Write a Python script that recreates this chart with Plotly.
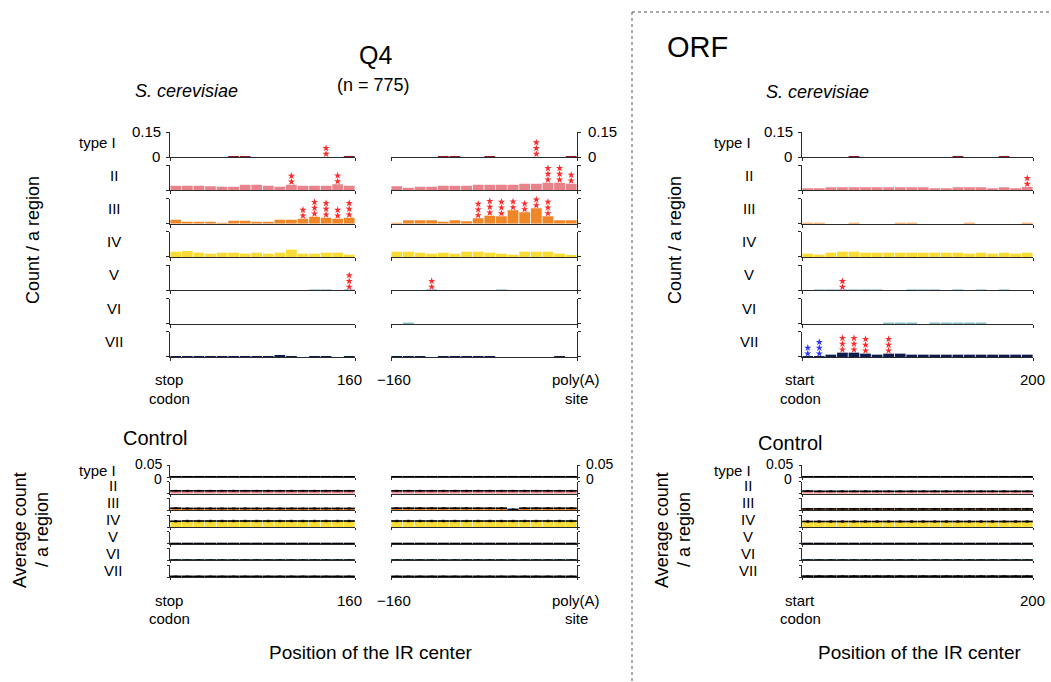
import plotly.graph_objects as go

W, H = 1051, 682
FONT = "Liberation Sans, Arial, Helvetica, sans-serif"

TYPES = ["type I", "II", "III", "IV", "V", "VI", "VII"]
COLORS = ["#8E1B1B", "#E9838B", "#EF8628", "#F9DC37", "#9DC3E6", "#2A8C96", "#0E1B4D"]

# ---------------- bin centres ----------------
stop_x = [5, 15, 25, 35, 45, 55, 65, 75, 85, 95, 105, 115, 125, 135, 145, 155]
polyA_x = [-155, -145, -135, -125, -115, -105, -95, -85, -75, -65, -55, -45, -35, -25, -15, -5]
orf_x = [5, 15, 25, 35, 45, 55, 65, 75, 85, 95, 105, 115, 125, 135, 145, 155, 165, 175, 185, 195]

# ---------------- Q4 : stop codon side (count / region) ----------------
stop_I = [0, 0, 0, 0, 0, 0.001, 0.001, 0, 0, 0, 0, 0, 0, 0, 0, 0.001]
stop_II = [0.028, 0.028, 0.028, 0.024, 0.022, 0.022, 0.034, 0.034, 0.028, 0.022, 0.034, 0.028, 0.028, 0.028, 0.036, 0.028]
stop_III = [0.024, 0.012, 0.012, 0.012, 0.006, 0.018, 0.018, 0.012, 0.012, 0.024, 0.024, 0.030, 0.042, 0.036, 0.030, 0.036]
stop_IV = [0.032, 0.036, 0.026, 0.020, 0.026, 0.026, 0.020, 0.026, 0.020, 0.026, 0.044, 0.020, 0.020, 0.026, 0.026, 0.014]
stop_V = [0, 0, 0, 0, 0, 0, 0, 0, 0, 0, 0, 0, 0.003, 0.003, 0, 0.003]
stop_VI = [0, 0, 0, 0, 0, 0, 0, 0, 0, 0, 0, 0, 0, 0, 0, 0]
stop_VII = [0.002, 0.004, 0.004, 0.004, 0.004, 0.004, 0.004, 0.004, 0.004, 0.008, 0.004, 0, 0.004, 0.004, 0, 0.004]
# number of significance stars per bin
stop_I_st = [0, 0, 0, 0, 0, 0, 0, 0, 0, 0, 0, 0, 0, 2, 0, 0]
stop_II_st = [0, 0, 0, 0, 0, 0, 0, 0, 0, 0, 2, 0, 0, 0, 2, 0]
stop_III_st = [0, 0, 0, 0, 0, 0, 0, 0, 0, 0, 0, 2, 3, 3, 2, 3]
stop_V_st = [0, 0, 0, 0, 0, 0, 0, 0, 0, 0, 0, 0, 0, 0, 0, 3]

# ---------------- Q4 : poly(A) side ----------------
polyA_I = [0, 0, 0, 0, 0.001, 0.001, 0, 0, 0.001, 0, 0, 0, 0, 0, 0, 0.001]
polyA_II = [0.024, 0.016, 0.022, 0.022, 0.028, 0.028, 0.028, 0.034, 0.034, 0.034, 0.034, 0.040, 0.040, 0.046, 0.046, 0.040]
polyA_III = [0.006, 0.020, 0.020, 0.020, 0.008, 0.020, 0.014, 0.032, 0.048, 0.044, 0.080, 0.068, 0.092, 0.044, 0.020, 0.020]
polyA_IV = [0.032, 0.032, 0.026, 0.020, 0.026, 0.020, 0.032, 0.032, 0.026, 0.020, 0.014, 0.032, 0.032, 0.032, 0.020, 0.008]
polyA_V = [0, 0, 0, 0.003, 0, 0, 0, 0, 0, 0.003, 0, 0, 0, 0, 0, 0]
polyA_VI = [0, 0.0015, 0, 0, 0, 0, 0, 0, 0, 0, 0, 0, 0, 0, 0, 0]
polyA_VII = [0.004, 0.004, 0.004, 0, 0.004, 0.004, 0.004, 0.004, 0.004, 0, 0, 0, 0, 0, 0.004, 0]
polyA_I_st = [0, 0, 0, 0, 0, 0, 0, 0, 0, 0, 0, 0, 3, 0, 0, 0]
polyA_II_st = [0, 0, 0, 0, 0, 0, 0, 0, 0, 0, 0, 0, 0, 3, 3, 2]
polyA_III_st = [0, 0, 0, 0, 0, 0, 0, 3, 3, 3, 3, 3, 3, 3, 0, 0]
polyA_V_st = [0, 0, 0, 2, 0, 0, 0, 0, 0, 0, 0, 0, 0, 0, 0, 0]

# ---------------- ORF ----------------
orf_I = [0, 0, 0, 0, 0.001, 0, 0, 0, 0, 0, 0, 0, 0, 0.001, 0, 0, 0, 0.001, 0, 0]
orf_II = [0.010, 0.010, 0.018, 0.018, 0.018, 0.018, 0.018, 0.018, 0.018, 0.018, 0.018, 0.012, 0.010, 0.018, 0.018, 0.018, 0.012, 0.018, 0.012, 0.020]
orf_III = [0.003, 0.003, 0, 0, 0.003, 0, 0, 0, 0.003, 0.003, 0, 0, 0, 0, 0.003, 0, 0, 0, 0, 0.003]
orf_IV = [0.020, 0.014, 0.026, 0.032, 0.032, 0.026, 0.026, 0.026, 0.026, 0.026, 0.026, 0.026, 0.026, 0.026, 0.020, 0.026, 0.020, 0.026, 0.020, 0.026]
orf_V = [0, 0.002, 0.002, 0.002, 0.002, 0.002, 0.002, 0, 0, 0.002, 0.002, 0.002, 0, 0.002, 0, 0.002, 0, 0.002, 0, 0]
orf_VI = [0, 0, 0, 0, 0, 0, 0, 0.0008, 0.0008, 0.0008, 0, 0.0008, 0.0008, 0.0008, 0.0008, 0.0008, 0, 0, 0, 0]
orf_VII = [0.002, 0.002, 0.014, 0.026, 0.026, 0.020, 0.014, 0.020, 0.020, 0.014, 0.014, 0.014, 0.014, 0.014, 0.014, 0.014, 0.014, 0.014, 0.014, 0.014]
orf_II_st = [0, 0, 0, 0, 0, 0, 0, 0, 0, 0, 0, 0, 0, 0, 0, 0, 0, 0, 0, 2]
orf_V_st = [0, 0, 0, 2, 0, 0, 0, 0, 0, 0, 0, 0, 0, 0, 0, 0, 0, 0, 0, 0]
orf_VII_st = [0, 0, 0, 3, 3, 3, 0, 3, 0, 0, 0, 0, 0, 0, 0, 0, 0, 0, 0, 0]
orf_VII_blue_st = [2, 3, 0, 0, 0, 0, 0, 0, 0, 0, 0, 0, 0, 0, 0, 0, 0, 0, 0, 0]

# ---------------- Controls (average count / region) ----------------
ctrl_stop_I = [0.001, 0.001, 0.001, 0.001, 0.001, 0.001, 0.001, 0.001, 0.001, 0.001, 0.001, 0.001, 0.001, 0.001, 0.001, 0.001]
ctrl_stop_II = [0.012, 0.012, 0.012, 0.012, 0.012, 0.012, 0.012, 0.012, 0.012, 0.012, 0.012, 0.012, 0.012, 0.012, 0.012, 0.012]
ctrl_stop_III = [0.009, 0.008, 0.008, 0.008, 0.008, 0.008, 0.008, 0.008, 0.008, 0.008, 0.008, 0.008, 0.008, 0.008, 0.008, 0.008]
ctrl_stop_IV = [0.024, 0.025, 0.025, 0.025, 0.025, 0.025, 0.025, 0.025, 0.025, 0.025, 0.025, 0.025, 0.025, 0.025, 0.025, 0.025]
ctrl_stop_V = [0.0005, 0.0005, 0.0005, 0.0005, 0.0005, 0.0005, 0.0005, 0.0005, 0.0005, 0.0005, 0.0005, 0.0005, 0.0005, 0.0005, 0.0005, 0.0005]
ctrl_stop_VI = [0.001, 0.001, 0.001, 0.001, 0.001, 0.001, 0.001, 0.001, 0.001, 0.001, 0.001, 0.001, 0.001, 0.001, 0.001, 0.001]
ctrl_stop_VII = [0.003, 0.003, 0.003, 0.003, 0.003, 0.003, 0.003, 0.003, 0.003, 0.003, 0.003, 0.003, 0.003, 0.003, 0.003, 0.003]

ctrl_polyA_I = [0.001, 0.001, 0.001, 0.001, 0.001, 0.001, 0.001, 0.001, 0.001, 0.001, 0.001, 0.001, 0.001, 0.001, 0.001, 0.001]
ctrl_polyA_II = [0.012, 0.012, 0.012, 0.012, 0.012, 0.012, 0.012, 0.012, 0.012, 0.012, 0.012, 0.012, 0.012, 0.012, 0.012, 0.012]
ctrl_polyA_III = [0.009, 0.009, 0.009, 0.009, 0.009, 0.009, 0.009, 0.009, 0.009, 0.009, 0.004, 0.009, 0.009, 0.009, 0.009, 0.009]
ctrl_polyA_IV = [0.025, 0.025, 0.025, 0.025, 0.025, 0.025, 0.025, 0.025, 0.025, 0.025, 0.025, 0.025, 0.025, 0.025, 0.025, 0.025]
ctrl_polyA_V = [0.0005, 0.0005, 0.0005, 0.0005, 0.0005, 0.0005, 0.0005, 0.0005, 0.0005, 0.0005, 0.0005, 0.0005, 0.0005, 0.0005, 0.0005, 0.0005]
ctrl_polyA_VI = [0.001, 0.001, 0.001, 0.001, 0.001, 0.001, 0.001, 0.001, 0.001, 0.001, 0.001, 0.001, 0.001, 0.001, 0.001, 0.001]
ctrl_polyA_VII = [0.003, 0.003, 0.003, 0.003, 0.003, 0.003, 0.003, 0.003, 0.003, 0.003, 0.003, 0.003, 0.003, 0.003, 0.003, 0.003]

ctrl_orf_I = [0.001, 0.001, 0.001, 0.001, 0.001, 0.001, 0.001, 0.001, 0.001, 0.001, 0.001, 0.001, 0.001, 0.001, 0.001, 0.001, 0.001, 0.001, 0.001, 0.001]
ctrl_orf_II = [0.011, 0.010, 0.010, 0.010, 0.010, 0.010, 0.010, 0.010, 0.010, 0.010, 0.010, 0.010, 0.010, 0.010, 0.010, 0.010, 0.010, 0.010, 0.010, 0.010]
ctrl_orf_III = [0.006, 0.006, 0.006, 0.006, 0.006, 0.006, 0.006, 0.006, 0.006, 0.006, 0.006, 0.006, 0.006, 0.006, 0.006, 0.006, 0.006, 0.006, 0.006, 0.006]
ctrl_orf_IV = [0.023, 0.023, 0.023, 0.023, 0.023, 0.023, 0.023, 0.023, 0.023, 0.023, 0.023, 0.023, 0.023, 0.023, 0.023, 0.023, 0.023, 0.023, 0.023, 0.023]
ctrl_orf_V = [0.0005, 0.0005, 0.0005, 0.0005, 0.0005, 0.0005, 0.0005, 0.0005, 0.0005, 0.0005, 0.0005, 0.0005, 0.0005, 0.0005, 0.0005, 0.0005, 0.0005, 0.0005, 0.0005, 0.0005]
ctrl_orf_VI = [0.001, 0.001, 0.001, 0.001, 0.001, 0.001, 0.001, 0.001, 0.001, 0.001, 0.001, 0.001, 0.001, 0.001, 0.001, 0.001, 0.001, 0.001, 0.001, 0.001]
ctrl_orf_VII = [0.004, 0.004, 0.004, 0.004, 0.004, 0.004, 0.004, 0.004, 0.004, 0.004, 0.004, 0.004, 0.004, 0.004, 0.004, 0.004, 0.004, 0.004, 0.004, 0.004]

# error (s.d.) per type for controls
ctrl_err_stop = [0.0005, 0.002, 0.002, 0.003, 0.0005, 0.0005, 0.001]
ctrl_err_polyA = [0.0005, 0.002, 0.002, 0.003, 0.0005, 0.0005, 0.001]
ctrl_err_orf = [0.0005, 0.002, 0.002, 0.003, 0.0005, 0.0005, 0.001]

# ---------------- assemble ----------------
panels = [
    dict(x=stop_x, xr=[0, 160], px=(170, 355), side="left",
         vals=[stop_I, stop_II, stop_III, stop_IV, stop_V, stop_VI, stop_VII],
         stars={0: stop_I_st, 1: stop_II_st, 2: stop_III_st, 4: stop_V_st}, blue={},
         ctrl=[ctrl_stop_I, ctrl_stop_II, ctrl_stop_III, ctrl_stop_IV, ctrl_stop_V, ctrl_stop_VI, ctrl_stop_VII],
         err=ctrl_err_stop),
    dict(x=polyA_x, xr=[-160, 0], px=(391, 577), side="right",
         vals=[polyA_I, polyA_II, polyA_III, polyA_IV, polyA_V, polyA_VI, polyA_VII],
         stars={0: polyA_I_st, 1: polyA_II_st, 2: polyA_III_st, 4: polyA_V_st}, blue={},
         ctrl=[ctrl_polyA_I, ctrl_polyA_II, ctrl_polyA_III, ctrl_polyA_IV, ctrl_polyA_V, ctrl_polyA_VI, ctrl_polyA_VII],
         err=ctrl_err_polyA),
    dict(x=orf_x, xr=[0, 200], px=(802, 1033), side="left",
         vals=[orf_I, orf_II, orf_III, orf_IV, orf_V, orf_VI, orf_VII],
         stars={1: orf_II_st, 4: orf_V_st, 6: orf_VII_st}, blue={6: orf_VII_blue_st},
         ctrl=[ctrl_orf_I, ctrl_orf_II, ctrl_orf_III, ctrl_orf_IV, ctrl_orf_V, ctrl_orf_VI, ctrl_orf_VII],
         err=ctrl_err_orf),
]

TOP_MAX, CTRL_MAX = 0.15, 0.05
AX = "#2a2a2a"

fig = go.Figure()
layout = {}


def ydom(top, bottom):
    return [1 - bottom / H, 1 - top / H]


def add_axes(n, px, ytop, ybot, xr, yr, side, ticklen):
    sx = "" if n == 1 else str(n)
    layout["xaxis" + sx] = dict(domain=[px[0] / W, px[1] / W], range=xr, anchor="y" + sx,
                                showgrid=False, zeroline=False, showline=True, linecolor=AX, linewidth=1,
                                ticks="outside", tickvals=xr, ticklen=ticklen, tickcolor=AX,
                                showticklabels=False, fixedrange=True)
    layout["yaxis" + sx] = dict(domain=ydom(ytop, ybot), range=yr, anchor="x" + sx, side=side,
                                showgrid=False, zeroline=False, showline=True, linecolor=AX, linewidth=1,
                                ticks="outside", tickvals=yr, ticklen=ticklen, tickcolor=AX,
                                showticklabels=False, fixedrange=True)
    return "x" + sx, "y" + sx


def star_points(xs, vals, counts, scale):
    sx, sy = [], []
    for xv, v, c in zip(xs, vals, counts):
        for k in range(c):
            sx.append(xv)
            sy.append(v + scale * (0.12 + 0.23 * k))
    return sx, sy


n = 0
for p, pan in enumerate(panels):
    # top (Q4 / ORF) panels
    for r in range(7):
        n += 1
        top = 132 + 33.33 * r
        xa, ya = add_axes(n, pan["px"], top, top + 25, pan["xr"], [0, TOP_MAX], pan["side"], 3)
        fig.add_trace(go.Bar(x=pan["x"], y=pan["vals"][r], xaxis=xa, yaxis=ya,
                             marker=dict(color=COLORS[r], line=dict(width=0)), width=9.3,
                             showlegend=False, hoverinfo="skip"))
        for d, col in ((pan["stars"], "#FF2B2B"), (pan["blue"], "#2B35FF")):
            if r in d:
                sx, sy = star_points(pan["x"], pan["vals"][r], d[r], TOP_MAX)
                fig.add_trace(go.Scatter(x=sx, y=sy, xaxis=xa, yaxis=ya, mode="markers",
                                         marker=dict(symbol="star", size=5.5, color=col, line=dict(width=0)),
                                         cliponaxis=False, showlegend=False, hoverinfo="skip"))
for p, pan in enumerate(panels):
    # control panels
    for r in range(7):
        n += 1
        bot = 477 + 16.67 * r
        xa, ya = add_axes(n, pan["px"], bot - 12, bot, pan["xr"], [0, CTRL_MAX], pan["side"], 2)
        cv = pan["ctrl"][r]
        e = pan["err"][r]
        fig.add_trace(go.Bar(x=pan["x"], y=cv, xaxis=xa, yaxis=ya,
                             marker=dict(color=COLORS[r], line=dict(width=0)), width=9.3,
                             showlegend=False, hoverinfo="skip"))
        fig.add_trace(go.Bar(x=pan["x"], y=[2 * e] * len(cv), base=[v - e for v in cv], xaxis=xa, yaxis=ya,
                             marker=dict(color="rgba(110,110,110,0.40)", line=dict(width=0)), width=9.3,
                             showlegend=False, hoverinfo="skip"))
        fig.add_trace(go.Scatter(x=pan["x"], y=cv, xaxis=xa, yaxis=ya, mode="markers",
                                 marker=dict(symbol="line-ew", size=8, line=dict(color="black", width=1.6)),
                                 error_y=dict(type="constant", value=e, color="black", thickness=0.8, width=1.5),
                                 cliponaxis=False, showlegend=False, hoverinfo="skip"))

ann = []


def T(x, y, text, size=15, xanchor="center", italic=False, angle=0):
    ann.append(dict(x=x / W, y=1 - y / H, xref="paper", yref="paper", text=text, showarrow=False,
                    xanchor=xanchor, yanchor="middle", textangle=angle,
                    font=dict(family=FONT, size=size, color="black",
                              style="italic" if italic else "normal")))


# titles
T(375, 55, "Q4", 25)
T(373, 85, "(n = 775)", 18)
T(186, 91, "S. cerevisiae", 18, italic=True)
T(697, 47, "ORF", 29)
T(817, 92, "S. cerevisiae", 18, italic=True)
T(155, 438, "Control", 20)
T(790, 443, "Control", 20)

# row labels
for r, t in enumerate(TYPES):
    ytop = 142 + 33.2 * r
    yc = 470 + 16.9 * r
    if r == 0:
        T(118, ytop, t, 15, xanchor="right")
        T(753, ytop, t, 15, xanchor="right")
        T(118, yc, t, 15, xanchor="right")
        T(753, yc, t, 15, xanchor="right")
    else:
        T(114, ytop, t, 15)
        T(749, ytop, t, 15)
        T(113, yc - 1, t, 15)
        T(748, yc - 1, t, 15)

# y tick labels
T(163, 131, "0.15", 15, xanchor="right")
T(162, 156, "0", 15, xanchor="right")
T(586, 131, "0.15", 15, xanchor="left")
T(586, 156, "0", 15, xanchor="left")
T(795, 131, "0.15", 15, xanchor="right")
T(794, 156, "0", 15, xanchor="right")
T(164, 464, "0.05", 14, xanchor="right")
T(164, 479, "0", 14, xanchor="right")
T(584, 464, "0.05", 14, xanchor="left")
T(584, 479, "0", 14, xanchor="left")
T(795, 464, "0.05", 14, xanchor="right")
T(794, 479, "0", 14, xanchor="right")

# x labels
for yb in (380, 600):
    T(169, yb, "stop", 15)
    T(169, yb + 18, "codon", 15)
    T(349, yb, "160", 15)
    T(394, yb, "\u2212160", 15)
    T(576, yb, "poly(A)", 15)
    T(576, yb + 18, "site", 15)
    T(800, yb, "start", 15)
    T(800, yb + 18, "codon", 15)
    T(1032, yb, "200", 15)

T(370, 652, "Position of the IR center", 19)
T(919, 652, "Position of the IR center", 19)

# axis titles
T(33, 240, "Count / a region", 18, angle=-90)
T(675, 240, "Count / a region", 18, angle=-90)
T(20, 530, "Average count", 18, angle=-90)
T(42, 530, "/ a region", 18, angle=-90)
T(662, 530, "Average count", 18, angle=-90)
T(684, 530, "/ a region", 18, angle=-90)

shapes = [
    dict(type="line", xref="paper", yref="paper", x0=632 / W, x1=632 / W, y0=1 - 12 / H, y1=0,
         line=dict(color="#555", width=1, dash="dot")),
    dict(type="line", xref="paper", yref="paper", x0=632 / W, x1=1, y0=1 - 12 / H, y1=1 - 12 / H,
         line=dict(color="#555", width=1, dash="dot")),
]

fig.update_layout(width=W, height=H, margin=dict(l=0, r=0, t=0, b=0), autosize=False,
                  plot_bgcolor="white", paper_bgcolor="white", barmode="overlay",
                  annotations=ann, shapes=shapes, showlegend=False,
                  font=dict(family=FONT), **layout)

fig.write_html("out.html", config={"displayModeBar": False})
